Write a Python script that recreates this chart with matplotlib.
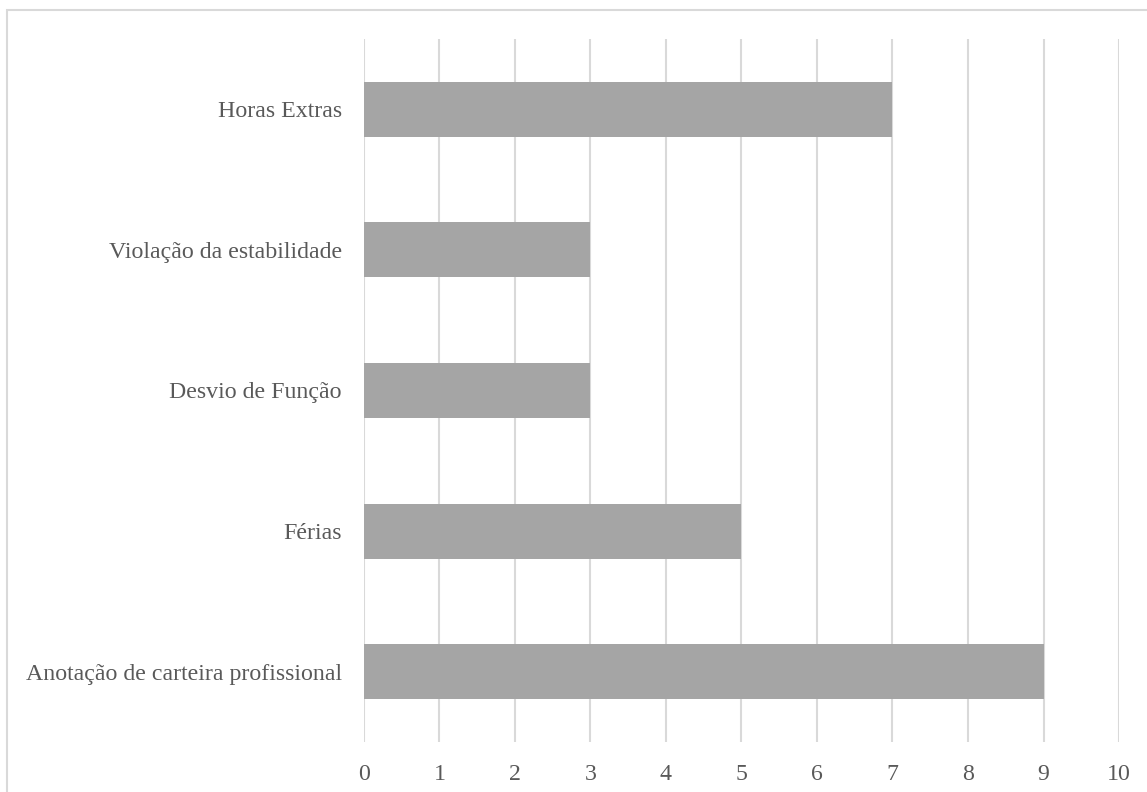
import matplotlib
matplotlib.use("Agg")
import matplotlib.pyplot as plt
from matplotlib.patches import Rectangle

categories = [
    "Anotação de carteira profissional",
    "Férias",
    "Desvio de Função",
    "Violação da estabilidade",
    "Horas Extras",
]
values = [9, 5, 3, 3, 7]
x_ticks = list(range(0, 11))

plt.rcParams["font.family"] = ["Liberation Serif", "DejaVu Serif"]

fig = plt.figure(figsize=(11.47, 7.92), dpi=100)
ax = fig.add_axes([0.3173, 0.0631, 0.9756 - 0.3173, 0.9508 - 0.0631])

ypos = list(range(len(categories)))
ax.barh(ypos, values, height=0.39, color="#A5A5A5", zorder=3)

ax.set_xlim(0, 10)
ax.set_ylim(-0.5, len(categories) - 0.5)
ax.set_xticks(x_ticks)
ax.set_yticks(ypos)
ax.set_yticklabels(categories)

ax.grid(axis="x", color="#D9D9D9", linewidth=1.5, zorder=0)
ax.grid(axis="y", visible=False)
for s in ax.spines.values():
    s.set_visible(False)

ax.tick_params(axis="both", length=0, labelsize=17.2, labelcolor="#595959")
ax.tick_params(axis="x", pad=16)
ax.tick_params(axis="y", pad=16)

# outer frame of the chart area
frame = Rectangle((7.5 / 1147, -0.1), 1.2, 1 - 9.5 / 792 + 0.1,
                  transform=fig.transFigure, fill=False,
                  edgecolor="#D9D9D9", linewidth=1.5, clip_on=False)
fig.patches.append(frame)

fig.savefig("out.png", dpi=100, facecolor="white")
